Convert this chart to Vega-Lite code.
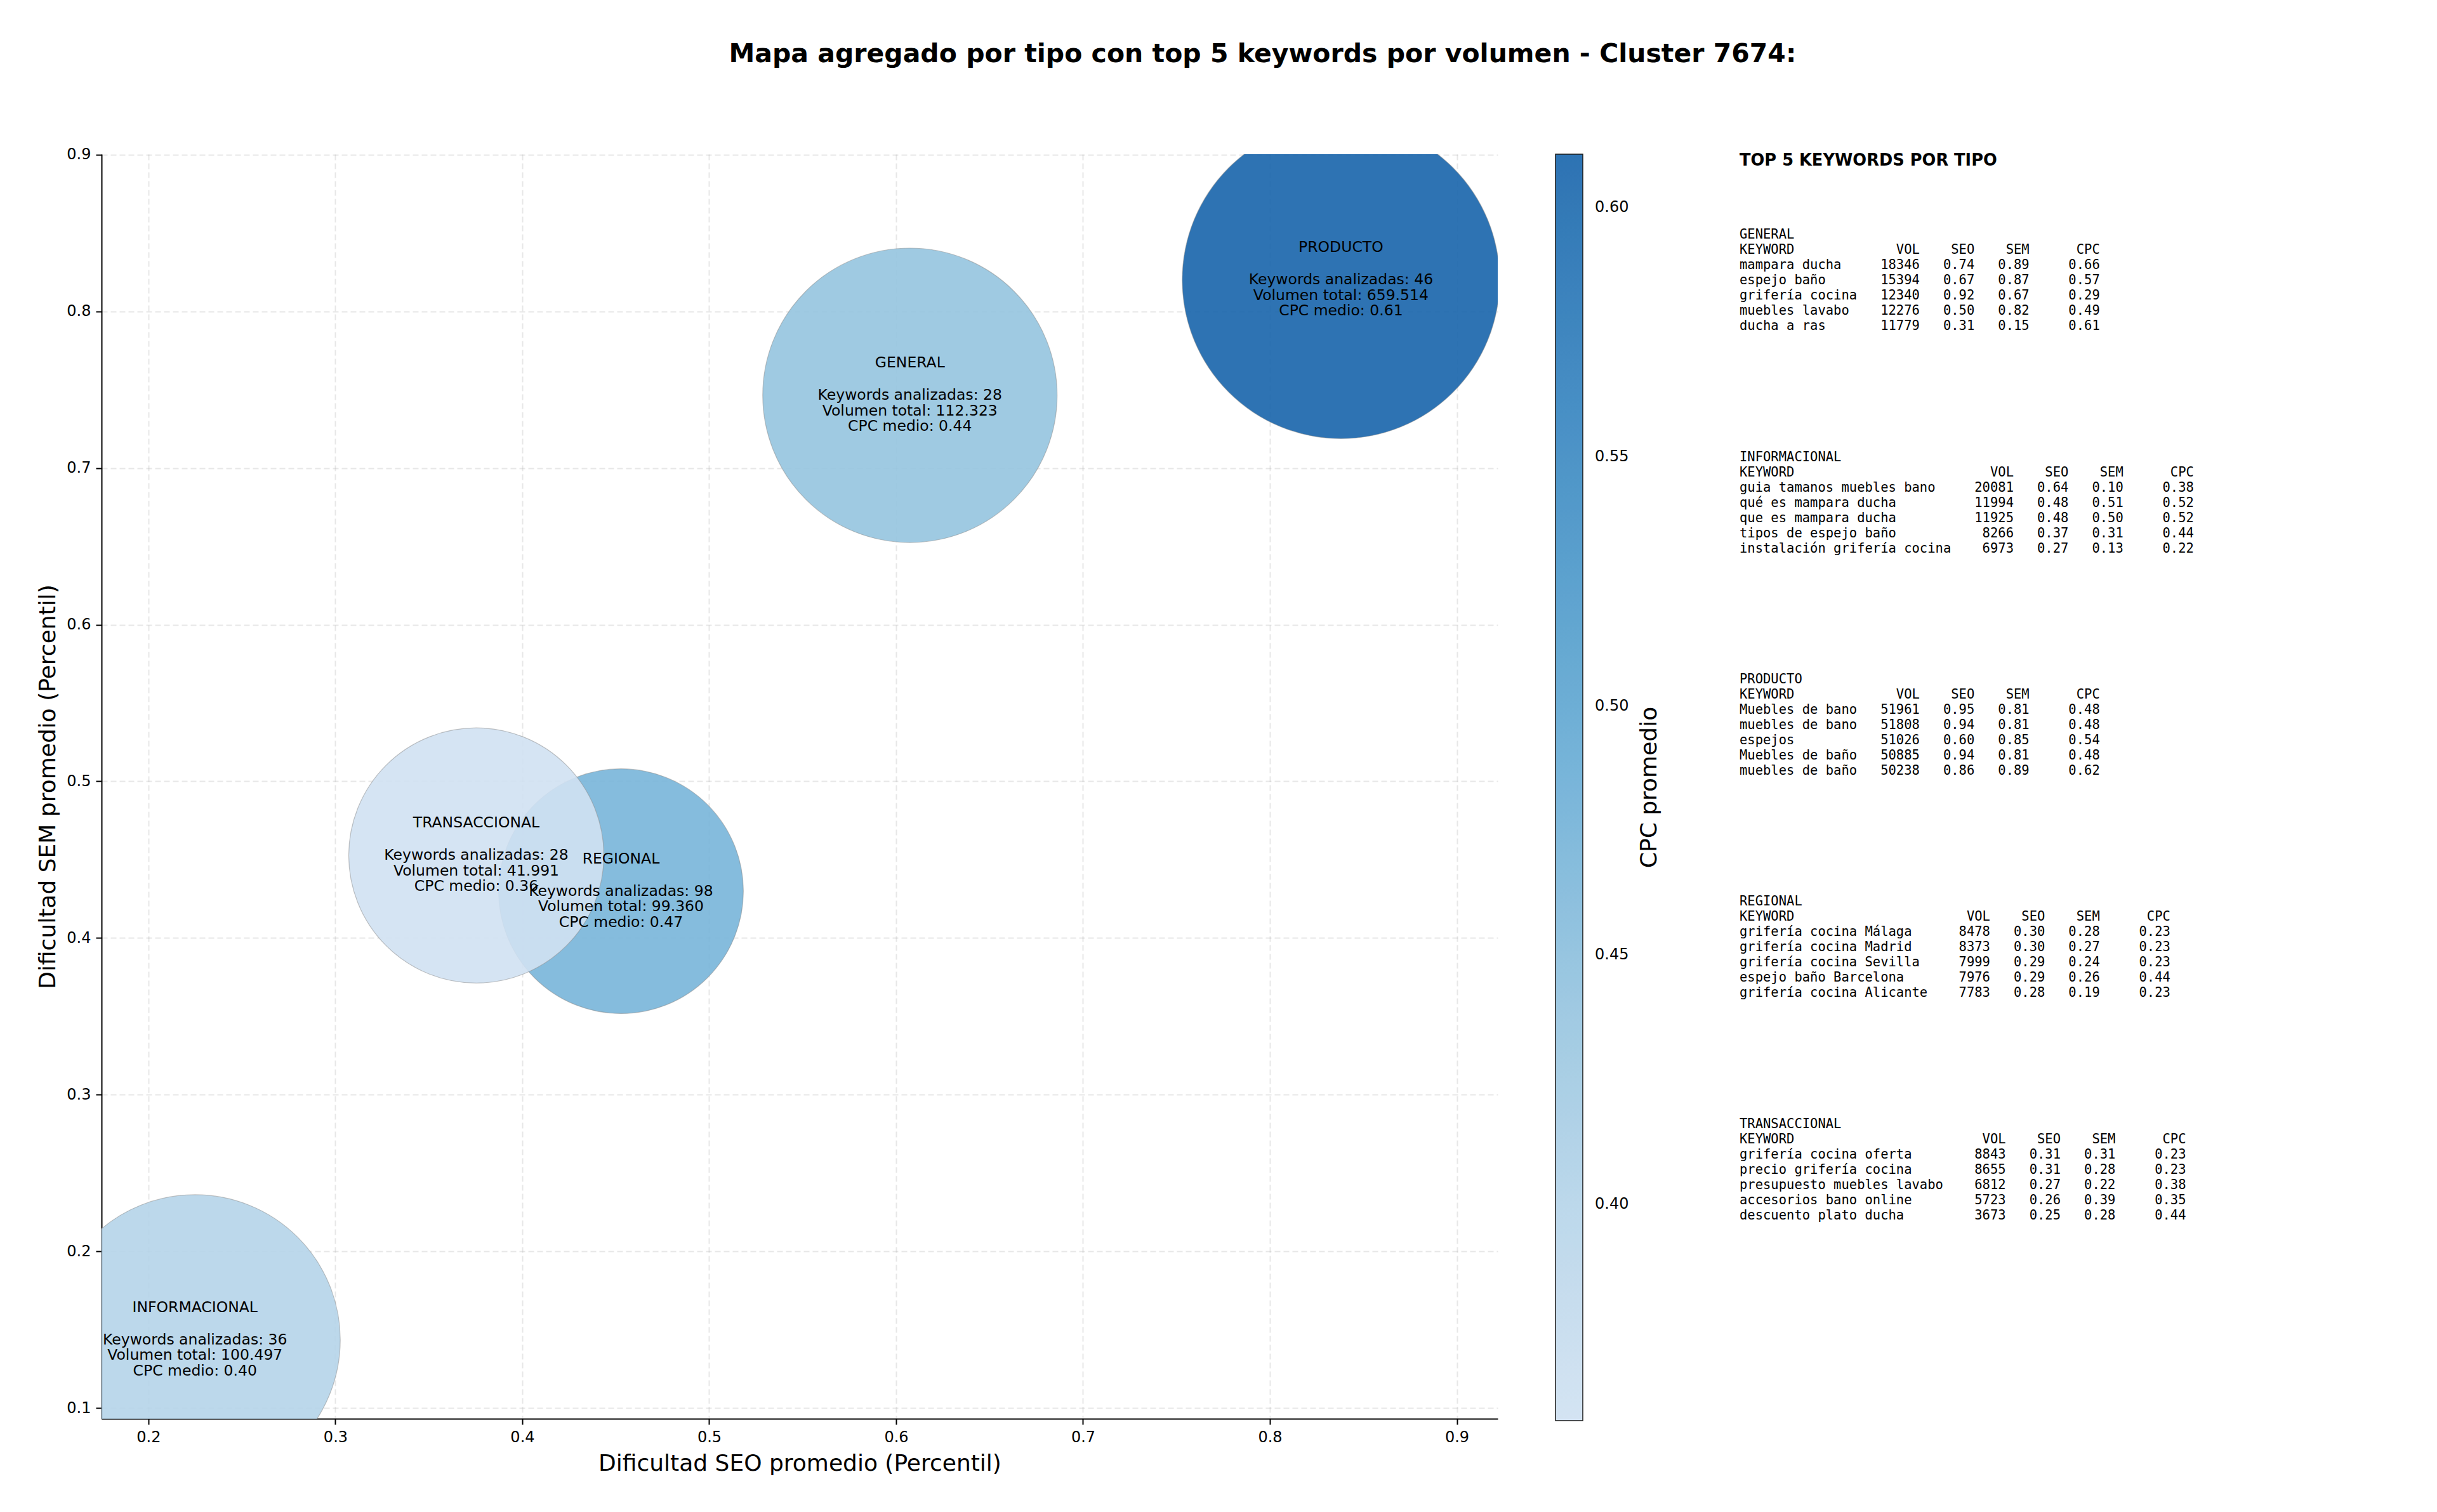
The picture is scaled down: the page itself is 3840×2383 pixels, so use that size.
{
  "$schema": "https://vega.github.io/schema/vega-lite/v6.json",
  "padding": {"left": 57, "top": 64, "right": 10, "bottom": 10},
  "title": {
    "text": "Mapa agregado por tipo con top 5 keywords por volumen - Cluster 7674:",
    "font": "DejaVu Sans",
    "fontSize": 41,
    "fontWeight": "bold",
    "color": "black",
    "anchor": "middle",
    "dx": 140,
    "offset": 125
  },
  "config": {
    "font": "DejaVu Sans",
    "view": {"stroke": null},
    "axis": {
      "domainColor": "black",
      "domainWidth": 2,
      "tickColor": "black",
      "tickWidth": 2,
      "tickSize": 9,
      "labelFontSize": 24,
      "labelColor": "black",
      "labelPadding": 8,
      "labelFlush": false,
      "titleFontSize": 36,
      "titleFontWeight": "normal",
      "titleColor": "black",
      "gridColor": "#b0b0b0",
      "gridOpacity": 0.3,
      "gridDash": [9, 5],
      "gridWidth": 2
    },
    "legend": {"gradientVerticalMaxLength": 2000}
  },
  "resolve": {"scale": {"color": "independent"}},
  "spacing": 124,
  "hconcat": [
    {
      "width": 2200,
      "height": 1993,
      "data": {
        "values": [
          {"tipo": "GENERAL", "seo": 0.6074, "sem": 0.7464, "cpc": 0.44, "peso": 53.8, "resumen": "Keywords analizadas: 28\nVolumen total: 112.323\nCPC medio: 0.44"},
          {"tipo": "INFORMACIONAL", "seo": 0.2249, "sem": 0.1435, "cpc": 0.40, "peso": 52.4, "resumen": "Keywords analizadas: 36\nVolumen total: 100.497\nCPC medio: 0.40"},
          {"tipo": "PRODUCTO", "seo": 0.838, "sem": 0.820, "cpc": 0.6107, "peso": 62.5, "resumen": "Keywords analizadas: 46\nVolumen total: 659.514\nCPC medio: 0.61"},
          {"tipo": "REGIONAL", "seo": 0.4528, "sem": 0.4299, "cpc": 0.47, "peso": 37.2, "resumen": "Keywords analizadas: 98\nVolumen total: 99.360\nCPC medio: 0.47"},
          {"tipo": "TRANSACCIONAL", "seo": 0.3754, "sem": 0.4527, "cpc": 0.3566, "peso": 40.4, "resumen": "Keywords analizadas: 28\nVolumen total: 41.991\nCPC medio: 0.36"}
        ]
      },
      "encoding": {
        "x": {
          "field": "seo",
          "type": "quantitative",
          "scale": {"domain": [0.1749, 0.9219], "nice": false, "zero": false},
          "axis": {
            "title": "Dificultad SEO promedio (Percentil)",
            "values": [0.2, 0.3, 0.4, 0.5, 0.6, 0.7, 0.8, 0.9],
            "format": ".1f",
            "titlePadding": 12
          }
        },
        "y": {
          "field": "sem",
          "type": "quantitative",
          "scale": {"domain": [0.0932, 0.9003], "nice": false, "zero": false},
          "axis": {
            "title": "Dificultad SEM promedio (Percentil)",
            "values": [0.1, 0.2, 0.3, 0.4, 0.5, 0.6, 0.7, 0.8, 0.9],
            "format": ".1f",
            "titlePadding": 10
          }
        }
      },
      "layer": [
        {
          "mark": {"type": "circle", "clip": true, "fillOpacity": 0.9, "stroke": "#8c8c8c", "strokeWidth": 1.2, "strokeOpacity": 0.5},
          "encoding": {
            "size": {
              "field": "peso",
              "type": "quantitative",
              "scale": {"type": "linear", "domain": [0, 62.5], "range": [0, 250000], "zero": true},
              "legend": null
            },
            "color": {
              "field": "cpc",
              "type": "quantitative",
              "scale": {
                "domain": [0.3566, 0.6107],
                "range": ["#d0e1f2", "#b6d4e9", "#94c4df", "#6baed6", "#4a98c9", "#2e7ebc", "#1764ab"],
                "interpolate": "rgb",
                "nice": false,
                "zero": false
              },
              "legend": {
                "title": "CPC promedio",
                "orient": "right",
                "offset": 91,
                "padding": 0,
                "direction": "vertical",
                "gradientLength": 1996,
                "gradientThickness": 43,
                "gradientStrokeColor": "black",
                "gradientStrokeWidth": 1.5,
                "values": [0.4, 0.45, 0.5, 0.55, 0.6],
                "format": ".2f",
                "labelFontSize": 24,
                "labelColor": "black",
                "labelOffset": 19,
                "labelOverlap": false,
                "titleOrient": "right",
                "titleFontSize": 36,
                "titleFontWeight": "normal",
                "titleColor": "black",
                "titleAnchor": "middle",
                "titlePadding": 52,
                "titleLimit": 1000,
                "encode": {
                  "gradient": {"update": {"opacity": {"value": 0.9}}},
                  "title": {"update": {"angle": {"value": -90}}}
                }
              }
            }
          }
        },
        {
          "mark": {"type": "text", "fontSize": 23.5, "align": "center", "baseline": "middle", "dy": -51, "color": "black"},
          "encoding": {"text": {"field": "tipo"}}
        },
        {
          "mark": {"type": "text", "lineBreak": "\n", "fontSize": 23.5, "lineHeight": 24.5, "align": "center", "baseline": "middle", "color": "black"},
          "encoding": {"text": {"field": "resumen"}}
        }
      ]
    },
    {
      "width": 900,
      "height": 1993,
      "data": {
        "values": [
          {"panel": "tabla", "estilo": "titulo", "renglon": 0.42, "texto": "TOP 5 KEYWORDS POR TIPO"},
          {"panel": "tabla", "estilo": "tabla", "renglon": 5.3, "texto": "GENERAL"},
          {"panel": "tabla", "estilo": "tabla", "renglon": 6.3, "texto": "KEYWORD\u00a0\u00a0\u00a0\u00a0\u00a0\u00a0\u00a0\u00a0\u00a0\u00a0\u00a0\u00a0\u00a0VOL\u00a0\u00a0\u00a0\u00a0SEO\u00a0\u00a0\u00a0\u00a0SEM\u00a0\u00a0\u00a0\u00a0\u00a0\u00a0CPC"},
          {"panel": "tabla", "estilo": "tabla", "renglon": 7.3, "texto": "mampara ducha\u00a0\u00a0\u00a0\u00a0\u00a018346\u00a0\u00a0\u00a00.74\u00a0\u00a0\u00a00.89\u00a0\u00a0\u00a0\u00a0\u00a00.66"},
          {"panel": "tabla", "estilo": "tabla", "renglon": 8.3, "texto": "espejo baño\u00a0\u00a0\u00a0\u00a0\u00a0\u00a0\u00a015394\u00a0\u00a0\u00a00.67\u00a0\u00a0\u00a00.87\u00a0\u00a0\u00a0\u00a0\u00a00.57"},
          {"panel": "tabla", "estilo": "tabla", "renglon": 9.3, "texto": "grifería cocina\u00a0\u00a0\u00a012340\u00a0\u00a0\u00a00.92\u00a0\u00a0\u00a00.67\u00a0\u00a0\u00a0\u00a0\u00a00.29"},
          {"panel": "tabla", "estilo": "tabla", "renglon": 10.3, "texto": "muebles lavabo\u00a0\u00a0\u00a0\u00a012276\u00a0\u00a0\u00a00.50\u00a0\u00a0\u00a00.82\u00a0\u00a0\u00a0\u00a0\u00a00.49"},
          {"panel": "tabla", "estilo": "tabla", "renglon": 11.3, "texto": "ducha a ras\u00a0\u00a0\u00a0\u00a0\u00a0\u00a0\u00a011779\u00a0\u00a0\u00a00.31\u00a0\u00a0\u00a00.15\u00a0\u00a0\u00a0\u00a0\u00a00.61"},
          {"panel": "tabla", "estilo": "tabla", "renglon": 19.9, "texto": "INFORMACIONAL"},
          {"panel": "tabla", "estilo": "tabla", "renglon": 20.9, "texto": "KEYWORD\u00a0\u00a0\u00a0\u00a0\u00a0\u00a0\u00a0\u00a0\u00a0\u00a0\u00a0\u00a0\u00a0\u00a0\u00a0\u00a0\u00a0\u00a0\u00a0\u00a0\u00a0\u00a0\u00a0\u00a0\u00a0VOL\u00a0\u00a0\u00a0\u00a0SEO\u00a0\u00a0\u00a0\u00a0SEM\u00a0\u00a0\u00a0\u00a0\u00a0\u00a0CPC"},
          {"panel": "tabla", "estilo": "tabla", "renglon": 21.9, "texto": "guia tamanos muebles bano\u00a0\u00a0\u00a0\u00a0\u00a020081\u00a0\u00a0\u00a00.64\u00a0\u00a0\u00a00.10\u00a0\u00a0\u00a0\u00a0\u00a00.38"},
          {"panel": "tabla", "estilo": "tabla", "renglon": 22.9, "texto": "qué es mampara ducha\u00a0\u00a0\u00a0\u00a0\u00a0\u00a0\u00a0\u00a0\u00a0\u00a011994\u00a0\u00a0\u00a00.48\u00a0\u00a0\u00a00.51\u00a0\u00a0\u00a0\u00a0\u00a00.52"},
          {"panel": "tabla", "estilo": "tabla", "renglon": 23.9, "texto": "que es mampara ducha\u00a0\u00a0\u00a0\u00a0\u00a0\u00a0\u00a0\u00a0\u00a0\u00a011925\u00a0\u00a0\u00a00.48\u00a0\u00a0\u00a00.50\u00a0\u00a0\u00a0\u00a0\u00a00.52"},
          {"panel": "tabla", "estilo": "tabla", "renglon": 24.9, "texto": "tipos de espejo baño\u00a0\u00a0\u00a0\u00a0\u00a0\u00a0\u00a0\u00a0\u00a0\u00a0\u00a08266\u00a0\u00a0\u00a00.37\u00a0\u00a0\u00a00.31\u00a0\u00a0\u00a0\u00a0\u00a00.44"},
          {"panel": "tabla", "estilo": "tabla", "renglon": 25.9, "texto": "instalación grifería cocina\u00a0\u00a0\u00a0\u00a06973\u00a0\u00a0\u00a00.27\u00a0\u00a0\u00a00.13\u00a0\u00a0\u00a0\u00a0\u00a00.22"},
          {"panel": "tabla", "estilo": "tabla", "renglon": 34.5, "texto": "PRODUCTO"},
          {"panel": "tabla", "estilo": "tabla", "renglon": 35.5, "texto": "KEYWORD\u00a0\u00a0\u00a0\u00a0\u00a0\u00a0\u00a0\u00a0\u00a0\u00a0\u00a0\u00a0\u00a0VOL\u00a0\u00a0\u00a0\u00a0SEO\u00a0\u00a0\u00a0\u00a0SEM\u00a0\u00a0\u00a0\u00a0\u00a0\u00a0CPC"},
          {"panel": "tabla", "estilo": "tabla", "renglon": 36.5, "texto": "Muebles de bano\u00a0\u00a0\u00a051961\u00a0\u00a0\u00a00.95\u00a0\u00a0\u00a00.81\u00a0\u00a0\u00a0\u00a0\u00a00.48"},
          {"panel": "tabla", "estilo": "tabla", "renglon": 37.5, "texto": "muebles de bano\u00a0\u00a0\u00a051808\u00a0\u00a0\u00a00.94\u00a0\u00a0\u00a00.81\u00a0\u00a0\u00a0\u00a0\u00a00.48"},
          {"panel": "tabla", "estilo": "tabla", "renglon": 38.5, "texto": "espejos\u00a0\u00a0\u00a0\u00a0\u00a0\u00a0\u00a0\u00a0\u00a0\u00a0\u00a051026\u00a0\u00a0\u00a00.60\u00a0\u00a0\u00a00.85\u00a0\u00a0\u00a0\u00a0\u00a00.54"},
          {"panel": "tabla", "estilo": "tabla", "renglon": 39.5, "texto": "Muebles de baño\u00a0\u00a0\u00a050885\u00a0\u00a0\u00a00.94\u00a0\u00a0\u00a00.81\u00a0\u00a0\u00a0\u00a0\u00a00.48"},
          {"panel": "tabla", "estilo": "tabla", "renglon": 40.5, "texto": "muebles de baño\u00a0\u00a0\u00a050238\u00a0\u00a0\u00a00.86\u00a0\u00a0\u00a00.89\u00a0\u00a0\u00a0\u00a0\u00a00.62"},
          {"panel": "tabla", "estilo": "tabla", "renglon": 49.1, "texto": "REGIONAL"},
          {"panel": "tabla", "estilo": "tabla", "renglon": 50.1, "texto": "KEYWORD\u00a0\u00a0\u00a0\u00a0\u00a0\u00a0\u00a0\u00a0\u00a0\u00a0\u00a0\u00a0\u00a0\u00a0\u00a0\u00a0\u00a0\u00a0\u00a0\u00a0\u00a0\u00a0VOL\u00a0\u00a0\u00a0\u00a0SEO\u00a0\u00a0\u00a0\u00a0SEM\u00a0\u00a0\u00a0\u00a0\u00a0\u00a0CPC"},
          {"panel": "tabla", "estilo": "tabla", "renglon": 51.1, "texto": "grifería cocina Málaga\u00a0\u00a0\u00a0\u00a0\u00a0\u00a08478\u00a0\u00a0\u00a00.30\u00a0\u00a0\u00a00.28\u00a0\u00a0\u00a0\u00a0\u00a00.23"},
          {"panel": "tabla", "estilo": "tabla", "renglon": 52.1, "texto": "grifería cocina Madrid\u00a0\u00a0\u00a0\u00a0\u00a0\u00a08373\u00a0\u00a0\u00a00.30\u00a0\u00a0\u00a00.27\u00a0\u00a0\u00a0\u00a0\u00a00.23"},
          {"panel": "tabla", "estilo": "tabla", "renglon": 53.1, "texto": "grifería cocina Sevilla\u00a0\u00a0\u00a0\u00a0\u00a07999\u00a0\u00a0\u00a00.29\u00a0\u00a0\u00a00.24\u00a0\u00a0\u00a0\u00a0\u00a00.23"},
          {"panel": "tabla", "estilo": "tabla", "renglon": 54.1, "texto": "espejo baño Barcelona\u00a0\u00a0\u00a0\u00a0\u00a0\u00a0\u00a07976\u00a0\u00a0\u00a00.29\u00a0\u00a0\u00a00.26\u00a0\u00a0\u00a0\u00a0\u00a00.44"},
          {"panel": "tabla", "estilo": "tabla", "renglon": 55.1, "texto": "grifería cocina Alicante\u00a0\u00a0\u00a0\u00a07783\u00a0\u00a0\u00a00.28\u00a0\u00a0\u00a00.19\u00a0\u00a0\u00a0\u00a0\u00a00.23"},
          {"panel": "tabla", "estilo": "tabla", "renglon": 63.7, "texto": "TRANSACCIONAL"},
          {"panel": "tabla", "estilo": "tabla", "renglon": 64.7, "texto": "KEYWORD\u00a0\u00a0\u00a0\u00a0\u00a0\u00a0\u00a0\u00a0\u00a0\u00a0\u00a0\u00a0\u00a0\u00a0\u00a0\u00a0\u00a0\u00a0\u00a0\u00a0\u00a0\u00a0\u00a0\u00a0VOL\u00a0\u00a0\u00a0\u00a0SEO\u00a0\u00a0\u00a0\u00a0SEM\u00a0\u00a0\u00a0\u00a0\u00a0\u00a0CPC"},
          {"panel": "tabla", "estilo": "tabla", "renglon": 65.7, "texto": "grifería cocina oferta\u00a0\u00a0\u00a0\u00a0\u00a0\u00a0\u00a0\u00a08843\u00a0\u00a0\u00a00.31\u00a0\u00a0\u00a00.31\u00a0\u00a0\u00a0\u00a0\u00a00.23"},
          {"panel": "tabla", "estilo": "tabla", "renglon": 66.7, "texto": "precio grifería cocina\u00a0\u00a0\u00a0\u00a0\u00a0\u00a0\u00a0\u00a08655\u00a0\u00a0\u00a00.31\u00a0\u00a0\u00a00.28\u00a0\u00a0\u00a0\u00a0\u00a00.23"},
          {"panel": "tabla", "estilo": "tabla", "renglon": 67.7, "texto": "presupuesto muebles lavabo\u00a0\u00a0\u00a0\u00a06812\u00a0\u00a0\u00a00.27\u00a0\u00a0\u00a00.22\u00a0\u00a0\u00a0\u00a0\u00a00.38"},
          {"panel": "tabla", "estilo": "tabla", "renglon": 68.7, "texto": "accesorios bano online\u00a0\u00a0\u00a0\u00a0\u00a0\u00a0\u00a0\u00a05723\u00a0\u00a0\u00a00.26\u00a0\u00a0\u00a00.39\u00a0\u00a0\u00a0\u00a0\u00a00.35"},
          {"panel": "tabla", "estilo": "tabla", "renglon": 69.7, "texto": "descuento plato ducha\u00a0\u00a0\u00a0\u00a0\u00a0\u00a0\u00a0\u00a0\u00a03673\u00a0\u00a0\u00a00.25\u00a0\u00a0\u00a00.28\u00a0\u00a0\u00a0\u00a0\u00a00.44"}
        ]
      },
      "encoding": {
        "x": {"field": "panel", "type": "nominal", "scale": {"type": "point", "align": 0, "padding": 0}, "axis": null},
        "y": {"field": "renglon", "type": "quantitative", "scale": {"domain": [0, 83.04], "reverse": true, "nice": false, "zero": false}, "axis": null},
        "text": {"field": "texto"}
      },
      "layer": [
        {
          "transform": [{"filter": "datum.estilo == 'titulo'"}],
          "mark": {"type": "text", "align": "left", "baseline": "middle", "font": "DejaVu Sans", "fontWeight": "bold", "fontSize": 25.7, "color": "black"}
        },
        {
          "transform": [{"filter": "datum.estilo == 'tabla'"}],
          "mark": {"type": "text", "align": "left", "baseline": "middle", "font": "DejaVu Sans Mono", "fontSize": 20.5, "color": "black"}
        }
      ]
    }
  ]
}
